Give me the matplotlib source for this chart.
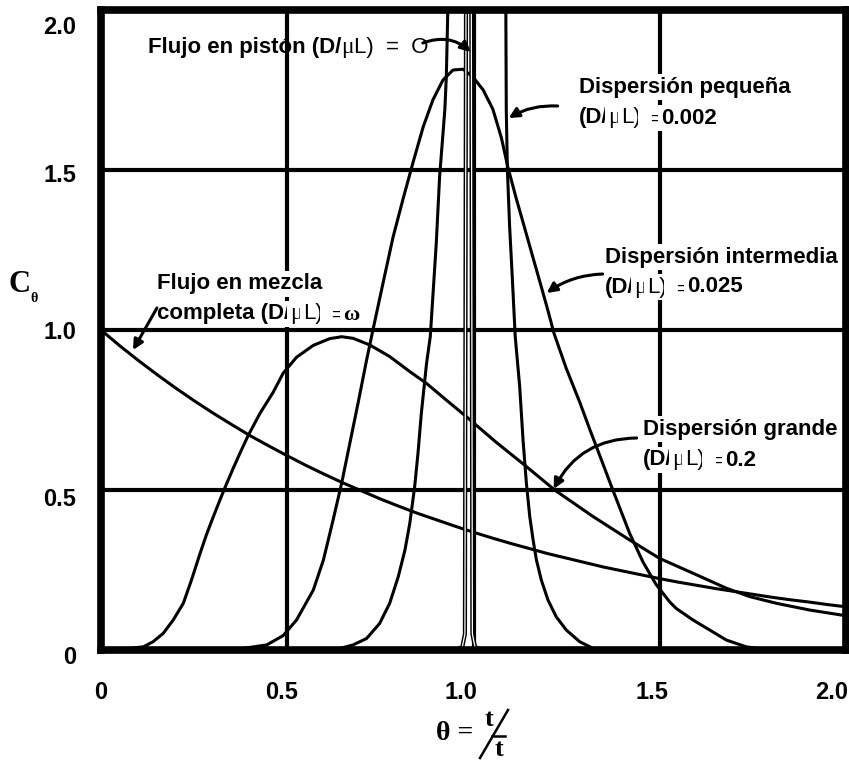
import numpy as np
import matplotlib.pyplot as plt
from matplotlib.lines import Line2D
from matplotlib.transforms import ScaledTranslation

# curves (theta, C)
theta_mix = np.linspace(0, 2, 41)
c_mix = [1.000, 0.951, 0.905, 0.861, 0.819, 0.779, 0.741, 0.705, 0.670, 0.638,
         0.607, 0.577, 0.549, 0.522, 0.497, 0.472, 0.449, 0.427, 0.407, 0.387,
         0.368, 0.350, 0.333, 0.317, 0.301, 0.287, 0.273, 0.259, 0.247, 0.235,
         0.223, 0.212, 0.202, 0.192, 0.183, 0.174, 0.165, 0.157, 0.150, 0.142, 0.135]

theta_big = [0.078, 0.114, 0.140, 0.167, 0.194, 0.221, 0.243, 0.266, 0.283, 0.301,
             0.319, 0.333, 0.355, 0.373, 0.395, 0.427, 0.462, 0.489, 0.525, 0.570,
             0.614, 0.646, 0.677, 0.722, 0.775, 0.829, 0.874, 0.927, 0.981, 1.06,
             1.137, 1.218, 1.321, 1.419, 1.50, 1.589, 1.679, 1.741, 1.813, 1.902, 2.0]
c_big = [0.005, 0.010, 0.026, 0.052, 0.094, 0.146, 0.219, 0.302, 0.360, 0.415,
         0.468, 0.508, 0.568, 0.615, 0.670, 0.740, 0.805, 0.865, 0.915, 0.952,
         0.973, 0.979, 0.974, 0.953, 0.917, 0.870, 0.833, 0.781, 0.729, 0.65,
         0.578, 0.50, 0.417, 0.344, 0.286, 0.24, 0.193, 0.167, 0.146, 0.125, 0.107]

theta_mid = [0.382, 0.445, 0.489, 0.525, 0.570, 0.597, 0.623, 0.646, 0.668, 0.690,
             0.713, 0.730, 0.757, 0.784, 0.811, 0.838, 0.865, 0.891, 0.918, 0.945,
             0.972, 0.999, 1.026, 1.052, 1.075, 1.092, 1.115, 1.137, 1.16, 1.182,
             1.2, 1.216, 1.249, 1.285, 1.312, 1.348, 1.374, 1.419, 1.455, 1.49,
             1.527, 1.544, 1.589, 1.634, 1.679, 1.732, 1.795]
c_mid = [0.005, 0.016, 0.045, 0.094, 0.1875, 0.281, 0.406, 0.521, 0.646, 0.771,
         0.906, 1.0, 1.146, 1.29, 1.41, 1.525, 1.635, 1.719, 1.781, 1.8125,
         1.815, 1.79, 1.75, 1.69, 1.60, 1.51, 1.41, 1.32, 1.225, 1.135,
         1.06, 0.99, 0.88, 0.775, 0.69, 0.58, 0.50, 0.365, 0.275, 0.205,
         0.15, 0.13, 0.094, 0.0625, 0.031, 0.010, 0.0]

theta_small = [0.60, 0.632, 0.677, 0.713, 0.748, 0.775, 0.798, 0.816, 0.829, 0.842,
               0.851, 0.860, 0.874, 0.884, 0.90, 0.909, 0.923, 0.927, 0.932,
               1.0866, 1.088, 1.091, 1.097, 1.104, 1.112, 1.124, 1.133, 1.142,
               1.151, 1.16, 1.169, 1.182, 1.2, 1.222, 1.249, 1.285, 1.321, 1.348]
c_small = [0.0, 0.002, 0.016, 0.036, 0.083, 0.146, 0.229, 0.3125, 0.396, 0.51,
           0.615, 0.74, 0.896, 0.98, 1.27, 1.479, 1.6875, 1.79, 2.05,
           2.05, 1.6875, 1.5, 1.323, 1.167, 0.98, 0.823, 0.656, 0.521,
           0.417, 0.344, 0.281, 0.219, 0.156, 0.104, 0.0625, 0.026, 0.005, 0.0]

theta_plug = [0.955, 0.970, 0.977, 0.980, 0.994, 0.997, 1.004, 1.020]
c_plug = [0.0, 0.01, 0.05, 2.1, 2.1, 0.05, 0.01, 0.0]

ticks = [0, 0.5, 1.0, 1.5, 2.0]
tick_labels = ['0', '0.5', '1.0', '1.5', '2.0']

W, H = 849, 760
sans = 'Liberation Sans'
serif = 'Liberation Serif'

fig = plt.figure(figsize=(W / 100, H / 100), dpi=100)
ax = fig.add_axes([101 / W, 1 - 650 / H, 745 / W, 640 / H])
ax.set_xlim(0, 2)
ax.set_ylim(0, 2)

ax.set_xticks(ticks)
ax.set_yticks(ticks)
ax.set_xticklabels(tick_labels, fontsize=17, fontweight='bold', family=sans)
ax.set_yticklabels(tick_labels, fontsize=17, fontweight='bold', family=sans)
ax.tick_params(axis='x', length=0, pad=22)
ax.tick_params(axis='y', length=0, pad=18)
ax.grid(True, color='k', lw=3)
ax.set_axisbelow(True)
for s in ax.spines.values():
    s.set_linewidth(5.5)

kw = dict(color='k', lw=2.2, solid_joinstyle='round', zorder=2)
ax.plot(theta_mix, c_mix, **kw)
ax.plot(theta_big, c_big, **kw)
ax.plot(theta_mid, c_mid, **kw)
ax.plot(theta_small, c_small, **kw)
ax.plot(theta_plug, c_plug, color='k', lw=3, zorder=2)
ax.plot(theta_plug, c_plug, color='w', lw=0.9, zorder=2.1)

box = dict(facecolor='white', edgecolor='none', pad=2)
B = dict(family=sans, fontweight='bold', fontsize=16)
N = dict(family=sans, fontweight='normal', fontsize=16)
MU = dict(family=serif, fontweight='normal', fontsize=17)
EQ = dict(family=sans, fontweight='normal', fontsize=13)


def chain(x, y, pieces, bbox=None):
    t = ax.text(x, y, pieces[0][0], va='center', ha='left', bbox=bbox, **pieces[0][1])
    for s, p in pieces[1:]:
        t = ax.annotate(s, xy=(1, 0), xycoords=t, va='bottom', ha='left',
                        bbox=bbox, **p)
    return t


def px(x, y):
    return ((x - 101) / 372.75, (650 - y) / 320)


# plug flow
chain(*px(148, 47), [('Flujo en pistón (D/', B), ('μ', MU), ('L)  =  O', N)])
# small
chain(*px(579, 87), [('Dispersión pequeña', B)], box)
chain(*px(579, 118), [('(D/', B), ('μ', MU), ('L)', N), ('  =', EQ), ('0.002', B)], box)
# intermediate
chain(*px(605, 257), [('Dispersión intermedia', B)], box)
chain(*px(605, 287), [('(D/', B), ('μ', MU), ('L)', N), ('  =', EQ), ('0.025', B)], box)
# large
chain(*px(643, 429), [('Dispersión grande', B)], box)
chain(*px(643, 460), [('(D/', B), ('μ', MU), ('L)', N), ('  =', EQ), ('0.2', B)], box)
# mixed flow
chain(*px(157, 284), [('Flujo en mezcla', B)], box)
chain(*px(157, 314), [('completa (D/', B), ('μ', MU), ('L)', N), ('  =', EQ),
                      ('ω', dict(family=serif, fontweight='bold', fontsize=16))], box)

arrows = [((423, 43), (471, 52), -0.3),
          ((558, 106), (509, 118), 0.15),
          ((603, 274), (547, 293), 0.15),
          ((637, 438), (554, 489), 0.3),
          ((157, 308), (133, 350), 0.0)]
for start, end, rad in arrows:
    ax.annotate('', xy=px(*end), xytext=px(*start),
                arrowprops=dict(arrowstyle='-|>', color='k', lw=2.2,
                                mutation_scale=15, shrinkA=0, shrinkB=0,
                                connectionstyle='arc3,rad=%s' % rad), zorder=4)

# nudge tick labels like the scan (pixels)
x_shift = [0, -6, -13, -8, -14]
y_shift = [-5, -7, 0, -3, -15]
for lab, d in zip(ax.get_xticklabels(), x_shift):
    lab.set_transform(lab.get_transform() + ScaledTranslation(d / 100, 0, fig.dpi_scale_trans))
for lab, d in zip(ax.get_yticklabels(), y_shift):
    lab.set_transform(lab.get_transform() + ScaledTranslation(0, d / 100, fig.dpi_scale_trans))

# axis labels
SB = dict(family=serif, fontweight='bold')
fig.text(19 / W, 1 - 285 / H, 'C', ha='center', va='center', fontsize=22, **SB)
fig.text(34 / W, 1 - 298 / H, 'θ', ha='center', va='center', fontsize=10, **SB)

fig.text(455 / W, 1 - 734 / H, 'θ =', ha='center', va='center', fontsize=20, **SB)
fig.text(489 / W, 1 - 719 / H, 't', ha='center', va='center', fontsize=19, **SB)
fig.text(499 / W, 1 - 749 / H, 't', ha='center', va='center', fontsize=19, **SB)
fig.add_artist(Line2D([508 / W, 480 / W], [1 - 710 / H, 1 - 758 / H], color='k', lw=1.8))
fig.add_artist(Line2D([492 / W, 505 / W], [1 - 736 / H, 1 - 736 / H], color='k', lw=1.8))

fig.savefig('out.png', dpi=100)
